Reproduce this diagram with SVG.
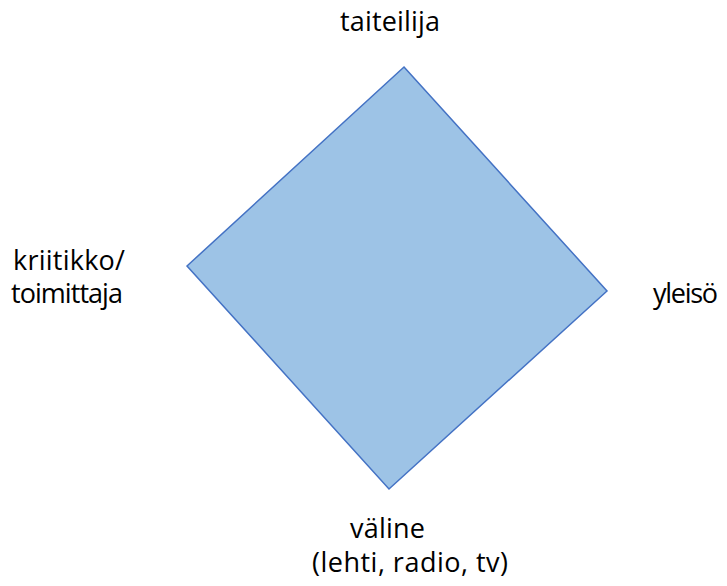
<svg xmlns="http://www.w3.org/2000/svg" width="727" height="586" viewBox="0 0 727 586">
  <style>
    .lbl { font-family: "Open Sans", "Noto Sans", "Liberation Sans", sans-serif; font-size: 27px; fill: #000; }
    .shape { fill: #9DC3E6; stroke: #4472C4; stroke-width: 1.5; }
  </style>
  <rect width="727" height="586" fill="#fff"/>
  <g id="connectors"/>
  <!-- central rhombus -->
  <g id="diamond">
    <polygon class="shape" points="404,67 607,291 389,489 187,266"/>
  </g>
  <!-- corner labels -->
  <g id="taiteilija">
    <text class="lbl" x="340" y="31" textLength="100">taiteilija</text>
  </g>
  <g id="yleiso">
    <text class="lbl" x="653" y="303" textLength="65">yleisö</text>
  </g>
  <g id="kriitikko">
    <text class="lbl" x="13" y="270" textLength="112">kriitikko/</text>
    <text class="lbl" x="11" y="303" textLength="112">toimittaja</text>
  </g>
  <g id="valine">
    <text class="lbl" x="350" y="538" textLength="75">väline</text>
    <text class="lbl" x="312" y="572" textLength="196">(lehti, radio, tv)</text>
  </g>
</svg>
